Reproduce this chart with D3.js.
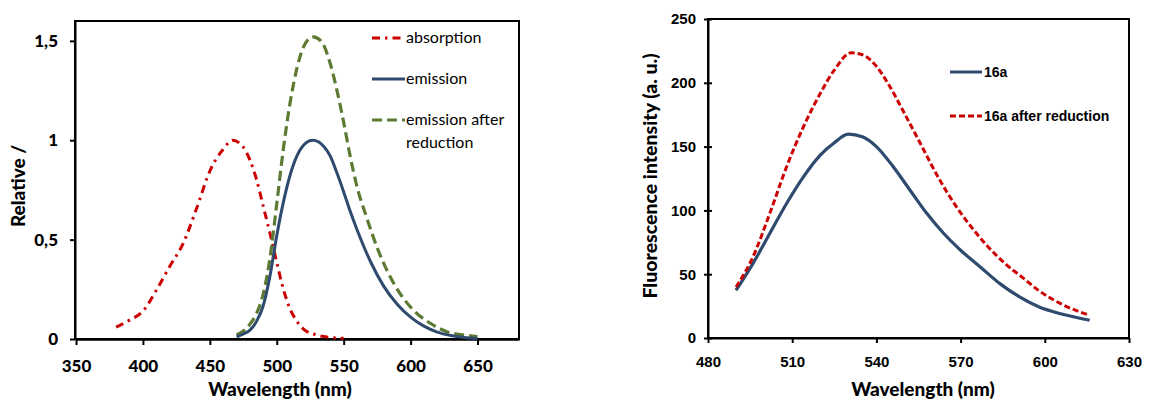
<!DOCTYPE html>
<html><head><meta charset="utf-8">
<script src="https://cdn.jsdelivr.net/npm/d3@7"></script>
<style>body{margin:0;background:#fff}svg{display:block}</style>
</head><body>
<svg id="c" width="1174" height="403"></svg>
<script>
// ---- Left chart data ----
const absWl  = [380,390,400,410,420,430,440,450,460,467,475,480,485,490,495,500,505,510,515,520,530,540,550];
const absVal = [0.06,0.095,0.14,0.245,0.365,0.48,0.655,0.845,0.955,1.0,0.965,0.9,0.8,0.665,0.53,0.385,0.25,0.15,0.09,0.05,0.02,0.008,0.003];
const emWl   = [470,475,480,485,490,495,500,505,510,515,520,527,535,540,545,550,555,560,570,580,590,600,610,620,630,640,650];
const emVal  = [0.01,0.025,0.045,0.09,0.17,0.32,0.52,0.69,0.825,0.92,0.975,1.0,0.97,0.92,0.835,0.74,0.64,0.55,0.39,0.265,0.175,0.11,0.065,0.035,0.018,0.008,0.003];
const redWl  = [470,475,480,485,490,495,500,505,510,515,520,527,533,540,545,550,555,560,567,575,582,592,602,615,627,640,650];
const redVal = [0.02,0.04,0.075,0.13,0.23,0.41,0.68,0.96,1.19,1.36,1.47,1.52,1.50,1.385,1.25,1.09,0.915,0.765,0.615,0.46,0.35,0.23,0.146,0.078,0.037,0.02,0.012];
const leftXTicks = [350,400,450,500,550,600,650];
const leftYTicks = [0,0.5,1,1.5];
const leftYLabels = ["0","0,5","1","1,5"];
const leftLegend = ["absorption","emission","emission after|reduction"];

// ---- Right chart data ----
const r16Wl  = [490,496,502,508,514,520,525,530,535,540,546,552,558,564,570,577,584,591,598,606,616];
const r16Val = [37.4,58.3,81.9,105.4,126.3,143.3,153,159.8,157.7,150,134.2,115.8,97.5,81.9,68.8,55.7,42.6,32.2,24.3,18.8,13.9];
const r16rWl  = [490,496,502,508,514,520,525,531,535,540,544,550,556,562,568,574,580,586,592,598,606,616];
const r16rVal = [40,63.5,97.5,134.2,165.5,191.7,210,223.5,222,213,200,176,151,126,104.5,86.5,71,58,47.5,37,26.5,17.8];
const rightXTicks = [480,510,540,570,600,630];
const rightYTicks = [0,50,100,150,200,250];
const rightLegend = ["16a","16a after reduction"];

const svg = d3.select("#c");
const zip = (a,b)=>a.map((v,i)=>[v,b[i]]);

// ================= LEFT =================
(function(){
  const L = {l:75,r:519,t:21,b:339};
  const font = "Lato, 'Open Sans', sans-serif";
  const x = d3.scaleLinear().domain([350,681]).range([76,519]);
  const y = d3.scaleLinear().domain([0,1.6]).range([339,21]);
  const g = svg.append("g");
  g.append("rect").attr("x",L.l).attr("y",L.t).attr("width",L.r-L.l).attr("height",L.b-L.t)
    .attr("fill","none").attr("stroke","#000").attr("stroke-width",2);
  const xa = g.append("g").attr("transform",`translate(0,${L.b})`)
    .call(d3.axisBottom(x).tickValues(leftXTicks).tickSize(6).tickSizeOuter(0).tickPadding(15));
  xa.select(".domain").attr("stroke-width",2.5);
  xa.selectAll(".tick line").attr("stroke-width",2);
  xa.selectAll("text").attr("font-family",font).attr("font-weight",900).attr("font-size",17).attr("fill","#000");
  const ya = g.append("g").attr("transform",`translate(${L.l},0)`)
    .call(d3.axisLeft(y).tickValues(leftYTicks).tickFormat((d,i)=>leftYLabels[i]).tickSize(5).tickSizeOuter(0).tickPadding(12));
  ya.select(".domain").attr("stroke-width",2);
  ya.selectAll(".tick line").attr("stroke-width",2);
  ya.selectAll("text").attr("font-family",font).attr("font-weight",900).attr("font-size",17).attr("fill","#000");
  g.append("text").attr("x",280).attr("y",396).attr("text-anchor","middle")
    .attr("font-family",font).attr("font-weight",900).attr("font-size",19).text("Wavelength (nm)");
  g.append("text").attr("transform","translate(25,186) rotate(-90)").attr("text-anchor","middle")
    .attr("font-family",font).attr("font-weight",900).attr("font-size",19).text("Relative /");
  const line = d3.line().x(d=>x(d[0])).y(d=>y(d[1])).curve(d3.curveMonotoneX);
  const cg = g.append("g");
  cg.append("path").attr("d",line(zip(absWl,absVal))).attr("fill","none").attr("stroke","#cc0000")
    .attr("stroke-width",3).attr("stroke-dasharray","8,5,2.5,5");
  cg.append("path").attr("d",line(zip(redWl,redVal))).attr("fill","none").attr("stroke","#5d7a33")
    .attr("stroke-width",3.2).attr("stroke-dasharray","10,5");
  cg.append("path").attr("d",line(zip(emWl,emVal))).attr("fill","none").attr("stroke","#2e4a6e")
    .attr("stroke-width",3);
  const lg = g.append("g").attr("font-family",font).attr("font-size",16);
  const styles = [{c:"#cc0000",d:"8,5,2.5,5"},{c:"#2e4a6e",d:null},{c:"#5d7a33",d:"10,5"}];
  const ly = [38,79,120];
  leftLegend.forEach((t,i)=>{
    lg.append("line").attr("x1",372).attr("x2",405).attr("y1",ly[i]).attr("y2",ly[i])
      .attr("stroke",styles[i].c).attr("stroke-width",3).attr("stroke-dasharray",styles[i].d);
    t.split("|").forEach((s,j)=>{
      lg.append("text").attr("x",406).attr("y",ly[i]+5+j*23).text(s);
    });
  });
})();

// ================= RIGHT =================
(function(){
  const L = {l:708,r:1129,t:19,b:338};
  const font = "'Liberation Sans', Arial, sans-serif";
  const tfont = "Lato, 'Open Sans', sans-serif";
  const x = d3.scaleLinear().domain([480,630]).range([L.l,L.r]);
  const y = d3.scaleLinear().domain([0,250]).range([L.b,L.t]);
  const g = svg.append("g");
  g.append("rect").attr("x",L.l).attr("y",L.t).attr("width",L.r-L.l).attr("height",L.b-L.t)
    .attr("fill","none").attr("stroke","#000").attr("stroke-width",2);
  const xa = g.append("g").attr("transform",`translate(0,${L.b})`)
    .call(d3.axisBottom(x).tickValues(rightXTicks).tickSize(5).tickSizeOuter(0).tickPadding(13));
  xa.select(".domain").attr("stroke-width",2);
  xa.selectAll(".tick line").attr("stroke-width",2);
  xa.selectAll("text").attr("font-family",font).attr("font-weight",700).attr("font-size",15).attr("fill","#000");
  const ya = g.append("g").attr("transform",`translate(${L.l},0)`)
    .call(d3.axisLeft(y).tickValues(rightYTicks).tickSize(4).tickSizeOuter(0).tickPadding(8));
  ya.select(".domain").attr("stroke-width",2);
  ya.selectAll(".tick line").attr("stroke-width",2).attr("x1",-4).attr("x2",4);
  ya.selectAll("text").attr("font-family",font).attr("font-weight",700).attr("font-size",15).attr("fill","#000");
  g.append("text").attr("x",923).attr("y",396).attr("text-anchor","middle")
    .attr("font-family",tfont).attr("font-weight",900).attr("font-size",19).text("Wavelength (nm)");
  g.append("text").attr("transform","translate(657,176) rotate(-90)").attr("text-anchor","middle")
    .attr("font-family",tfont).attr("font-weight",900).attr("font-size",19.5).text("Fluorescence intensity (a. u.)");
  const line = d3.line().x(d=>x(d[0])).y(d=>y(d[1])).curve(d3.curveMonotoneX);
  g.append("path").attr("d",line(zip(r16Wl,r16Val))).attr("fill","none").attr("stroke","#2e4a6e").attr("stroke-width",3.2);
  g.append("path").attr("d",line(zip(r16rWl,r16rVal))).attr("fill","none").attr("stroke","#cc0000")
    .attr("stroke-width",3).attr("stroke-dasharray","6,3");
  const lg = g.append("g").attr("font-family",font).attr("font-weight",700).attr("font-size",14);
  const st = [{c:"#2e4a6e",d:null},{c:"#cc0000",d:"6,3"}];
  const ly = [72,116];
  rightLegend.forEach((t,i)=>{
    lg.append("line").attr("x1",950).attr("x2",982).attr("y1",ly[i]).attr("y2",ly[i])
      .attr("stroke",st[i].c).attr("stroke-width",3).attr("stroke-dasharray",st[i].d);
    lg.append("text").attr("x",984).attr("y",ly[i]+5).text(t);
  });
})();
</script>
</body></html>
